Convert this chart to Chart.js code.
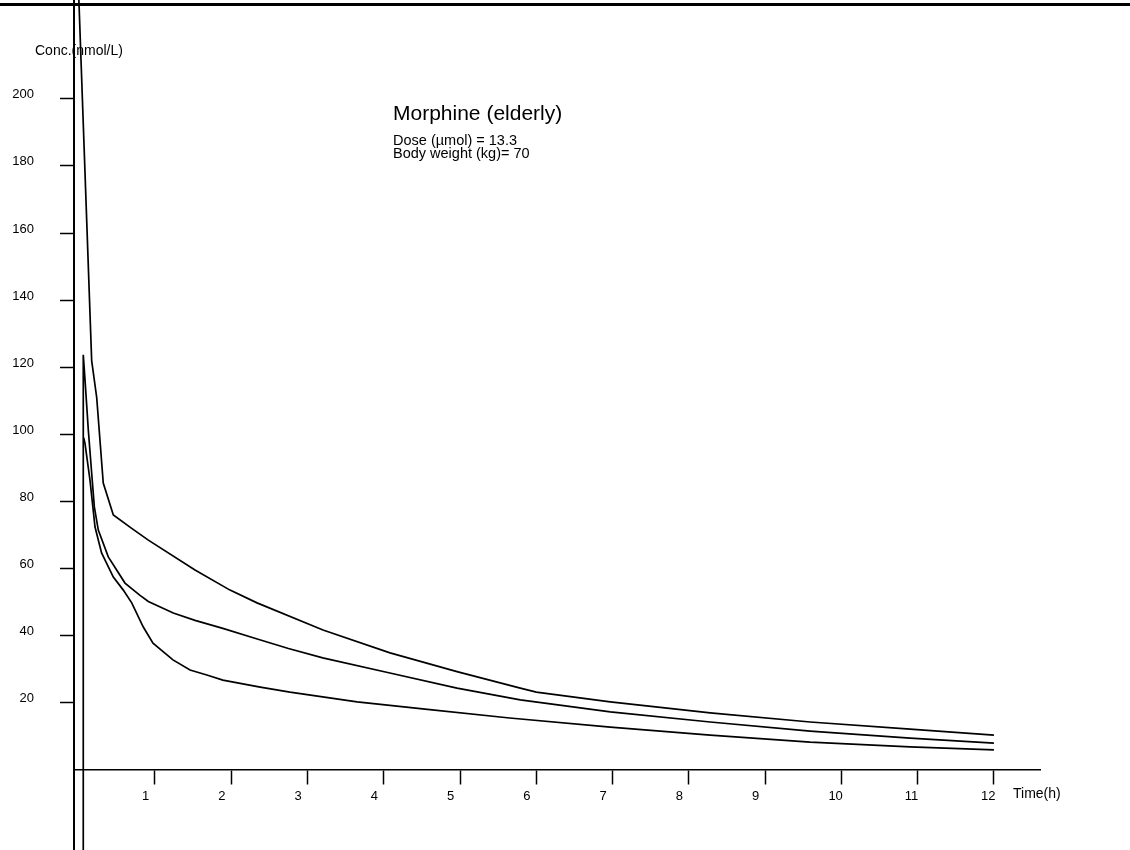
<!DOCTYPE html>
<html>
<head>
<meta charset="utf-8">
<script src="https://cdn.jsdelivr.net/npm/chart.js@4/dist/chart.umd.min.js"></script>
<style>
  html, body { margin: 0; padding: 0; background: #fff; }
  #wrap { position: relative; width: 1130px; height: 850px; }
</style>
</head>
<body>
<div id="wrap"><canvas id="chart"></canvas></div>
<script>
// tick values
const xTicks = [1, 2, 3, 4, 5, 6, 7, 8, 9, 10, 11, 12];
const yTicks = [20, 40, 60, 80, 100, 120, 140, 160, 180, 200];

// upper curve
const timeA = [0, 0.17, 0.236, 0.322, 0.454, 0.695, 0.913, 1.525, 1.984, 2.338, 3.203, 4.082, 4.96, 5.79, 6.0, 6.97, 8.28, 9.59, 10.9, 12];
const concA = [231, 122, 111, 85.5, 76, 72, 68.5, 59.6, 53.6, 49.8, 41.7, 34.9, 29.3, 24.4, 23.2, 20.3, 17.0, 14.3, 12.2, 10.4];

// middle curve (starts with the vertical rise)
const timeB = [0.06, 0.06, 0.083, 0.126, 0.17, 0.205, 0.257, 0.388, 0.607, 0.80, 0.913, 1.24, 1.525, 1.89, 2.33, 2.75, 3.2, 4.08, 4.96, 5.79, 6.97, 8.28, 9.59, 10.9, 12];
const concB = [-24, 123.7, 116.2, 101.3, 88.5, 78.4, 71.5, 63.5, 55.7, 52.1, 50.2, 46.8, 44.6, 42.2, 39.1, 36.2, 33.4, 28.9, 24.4, 20.9, 17.3, 14.3, 11.6, 9.5, 8.0];

// lower curve
const timeC = [0.065, 0.082, 0.148, 0.214, 0.30, 0.454, 0.585, 0.695, 0.847, 0.974, 1.236, 1.46, 1.68, 1.89, 2.38, 2.77, 3.65, 4.51, 5.65, 6.97, 8.28, 9.59, 10.9, 12];
const concC = [99, 97.4, 86.4, 72.4, 64.7, 57.5, 53.6, 49.8, 42.6, 37.8, 32.8, 29.8, 28.3, 26.8, 24.7, 23.2, 20.3, 18.2, 15.5, 12.8, 10.4, 8.3, 6.9, 6.0];

const FONT = '"Liberation Sans", Arial, sans-serif';

function toPoints(ts, vs) {
  return ts.map((t, i) => ({ x: t, y: vs[i] }));
}

function curve(ts, vs) {
  return {
    data: toPoints(ts, vs),
    borderColor: '#000',
    borderWidth: 1.7,
    pointRadius: 0,
    tension: 0,
    fill: false
  };
}

// texts of the figure
const labels = {
  id: 'labels',
  afterDraw(chart) {
    const ctx = chart.ctx;
    ctx.save();
    ctx.fillStyle = '#000';
    ctx.fillRect(0, 3, chart.width, 3); // page edge line
    ctx.textAlign = 'left';
    ctx.textBaseline = 'alphabetic';
    ctx.font = '14px ' + FONT;
    ctx.fillText('Conc.(nmol/L)', 35, 55);
    ctx.font = '21px ' + FONT;
    ctx.fillText('Morphine (elderly)', 393, 120);
    ctx.font = '14.5px ' + FONT;
    ctx.fillText('Dose (µmol) = 13.3', 393, 145);
    ctx.fillText('Body weight (kg)= 70', 393, 158);
    ctx.font = '14px ' + FONT;
    ctx.fillText('Time(h)', 1013, 798);
    ctx.restore();
  }
};

new Chart(document.getElementById('chart'), {
  type: 'line',
  data: {
    datasets: [curve(timeA, concA), curve(timeB, concB), curve(timeC, concC)]
  },
  options: {
    responsive: true,
    maintainAspectRatio: false,
    animation: false,
    layout: { padding: { left: 0, right: 90, top: 0, bottom: 0 } },
    plugins: { legend: { display: false }, tooltip: { enabled: false } },
    scales: {
      x: {
        type: 'linear',
        position: { y: 0 },
        min: -0.0616,
        max: 12.604,
        afterBuildTicks: s => { s.ticks = xTicks.map(v => ({ value: v })); },
        afterFit: s => { s.height = 0; s.paddingLeft = 0; s.paddingRight = 0; },
        grid: { drawOnChartArea: false, tickLength: 14, tickColor: '#000', tickWidth: 1.5 },
        border: { color: '#000', width: 1.5 },
        ticks: {
          color: '#000',
          font: { family: FONT, size: 13 },
          align: 'start',
          labelOffset: -13,
          padding: 5,
          maxRotation: 0,
          autoSkip: false
        }
      },
      y: {
        type: 'linear',
        min: -23.84,
        max: 229.44,
        afterBuildTicks: s => { s.ticks = yTicks.map(v => ({ value: v })); },
        afterFit: s => { s.width = 74; s.paddingTop = 0; s.paddingBottom = 0; },
        grid: { drawOnChartArea: false, tickLength: 14, tickColor: '#000', tickWidth: 1.5 },
        border: { color: '#000', width: 2 },
        ticks: {
          color: '#000',
          font: { family: FONT, size: 13 },
          padding: 26,
          labelOffset: -4,
          autoSkip: false
        }
      }
    }
  },
  plugins: [labels]
});
</script>
</body>
</html>
